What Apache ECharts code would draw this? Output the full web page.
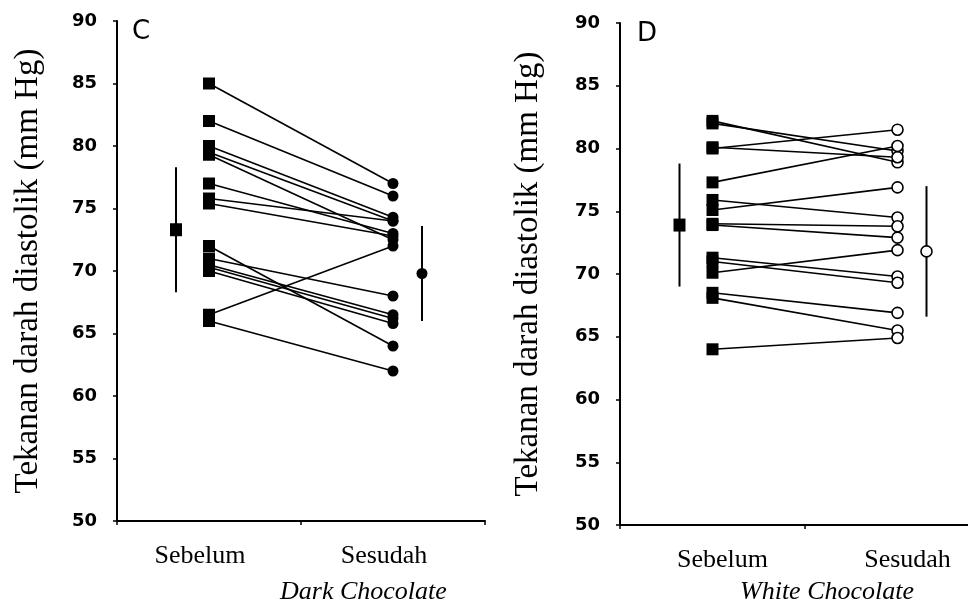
<!DOCTYPE html>
<html>
<head>
<meta charset="utf-8">
<script src="https://cdn.jsdelivr.net/npm/echarts@6/dist/echarts.min.js"></script>
<style>
  html, body { margin: 0; padding: 0; background: #fff; }
  #chart { width: 968px; height: 602px; }
</style>
</head>
<body>
<div id="chart"></div>
<script>
var categories = ["Sebelum", "Sesudah"];

// panel C - dark chocolate
var darkPre = [85, 82, 80, 79.5, 79.3, 77, 75.8, 75.4, 72, 71, 70.5, 70.3, 70, 66.5, 66];
var darkPost = [77, 76, 74.3, 74, 72.5, 73, 74, 72.8, 64, 68, 66.5, 66.2, 65.8, 72, 62];
var darkMean = [73.3, 69.8];
var darkSD = [5.0, 3.8];

// panel D - white chocolate
var whitePre = [82, 82.2, 80, 80.1, 77.3, 75.9, 75.1, 74, 73.9, 71.3, 71, 70.1, 68.5, 68.1, 64];
var whitePost = [79.8, 78.9, 81.5, 79.3, 80.2, 74.5, 76.9, 73.8, 72.9, 69.8, 69.3, 71.9, 66.9, 65.5, 64.9];
var whiteMean = [73.9, 71.8];
var whiteSD = [4.9, 5.2];

var yName = "Tekanan darah diastolik (mm Hg)";

var chart = echarts.init(document.getElementById("chart"));

function pairLines(pre, post, k) {
  return pre.map(function (v, i) {
    return {
      type: "line",
      xAxisIndex: k,
      yAxisIndex: k,
      data: [v, post[i]],
      showSymbol: false,
      silent: true,
      z: 2,
      lineStyle: { color: "#000", width: 1.6 },
    };
  });
}

function meanSeries(mean, sd, k, hollow) {
  return {
    type: "custom",
    xAxisIndex: k,
    yAxisIndex: k,
    z: 4,
    data: mean.map(function (m, i) {
      return [i, m, sd[i]];
    }),
    renderItem: function (params, api) {
      var idx = api.value(0);
      var m = api.value(1);
      var s = api.value(2);
      var dx = idx === 0 ? -33 : 29;
      var c = api.coord([idx, m]);
      var t = api.coord([idx, m + s]);
      var b = api.coord([idx, m - s]);
      var x = c[0] + dx;
      var marker;
      if (idx === 0) {
        marker = {
          type: "rect",
          shape: { x: x - 6, y: c[1] - 6.5, width: 12, height: 13 },
          style: { fill: "#000" },
        };
      } else {
        marker = {
          type: "circle",
          shape: { cx: x, cy: c[1], r: 5.5 },
          style: hollow
            ? { fill: "#fff", stroke: "#000", lineWidth: 1.6 }
            : { fill: "#000" },
        };
      }
      return {
        type: "group",
        children: [
          {
            type: "line",
            shape: { x1: x, y1: t[1], x2: x, y2: b[1] },
            style: { stroke: "#000", lineWidth: 2 },
          },
          marker,
        ],
      };
    },
  };
}

function xAxisCfg(k, pad) {
  return {
    type: "category",
    gridIndex: k,
    data: categories,
    boundaryGap: true,
    axisLine: { lineStyle: { color: "#000", width: 2 } },
    axisTick: { show: true, length: 4, lineStyle: { color: "#000", width: 1.5 } },
    axisLabel: {
      color: "#000",
      fontFamily: "Liberation Serif",
      fontSize: 26,
      margin: 22,
      padding: pad,
    },
  };
}

function yAxisCfg(k, gap) {
  return {
    type: "value",
    gridIndex: k,
    min: 50,
    max: 90,
    interval: 5,
    splitLine: { show: false },
    axisLine: { show: true, lineStyle: { color: "#000", width: 2 } },
    axisTick: { show: true, length: 4, lineStyle: { color: "#000", width: 1.5 } },
    axisLabel: {
      color: "#000",
      fontFamily: "DejaVu Sans",
      fontWeight: "bold",
      fontSize: 18,
      margin: 20,
    },
    name: yName,
    nameLocation: "middle",
    nameGap: gap,
    nameTextStyle: {
      color: "#000",
      fontFamily: "Liberation Serif",
      fontSize: 33,
    },
  };
}

var series = []
  .concat(pairLines(darkPre, darkPost, 0))
  .concat(pairLines(whitePre, whitePost, 1))
  .concat([
    {
      type: "scatter",
      xAxisIndex: 0,
      yAxisIndex: 0,
      symbol: "rect",
      symbolSize: 12,
      z: 3,
      itemStyle: { color: "#000", opacity: 1 },
      data: darkPre.map(function (v) { return [categories[0], v]; }),
    },
    {
      type: "scatter",
      xAxisIndex: 0,
      yAxisIndex: 0,
      symbol: "circle",
      symbolSize: 11,
      z: 3,
      itemStyle: { color: "#000", opacity: 1 },
      data: darkPost.map(function (v) { return [categories[1], v]; }),
    },
    {
      type: "scatter",
      xAxisIndex: 1,
      yAxisIndex: 1,
      symbol: "rect",
      symbolSize: 12,
      z: 3,
      itemStyle: { color: "#000", opacity: 1 },
      data: whitePre.map(function (v) { return [categories[0], v]; }),
    },
    {
      type: "scatter",
      xAxisIndex: 1,
      yAxisIndex: 1,
      symbol: "circle",
      symbolSize: 11,
      z: 3,
      itemStyle: { color: "#fff", borderColor: "#000", borderWidth: 1.6, opacity: 1 },
      data: whitePost.map(function (v) { return [categories[1], v]; }),
    },
    meanSeries(darkMean, darkSD, 0, false),
    meanSeries(whiteMean, whiteSD, 1, true),
  ]);

chart.setOption({
  animation: false,
  backgroundColor: "#fff",
  title: [
    {
      text: "C",
      left: 132,
      top: 19,
      padding: 0,
      textStyle: { color: "#000", fontFamily: "DejaVu Sans", fontSize: 26, fontWeight: "normal" },
    },
    {
      text: "D",
      left: 637,
      top: 21,
      padding: 0,
      textStyle: { color: "#000", fontFamily: "DejaVu Sans", fontSize: 26, fontWeight: "normal" },
    },
    {
      text: "Dark Chocolate",
      left: 280,
      top: 579,
      padding: 0,
      textStyle: { color: "#000", fontFamily: "Liberation Serif", fontStyle: "italic", fontSize: 26, fontWeight: "normal" },
    },
    {
      text: "White Chocolate",
      left: 740,
      top: 579,
      padding: 0,
      textStyle: { color: "#000", fontFamily: "Liberation Serif", fontStyle: "italic", fontSize: 26, fontWeight: "normal" },
    },
  ],
  grid: [
    { left: 117, top: 21, width: 368, height: 500, outerBoundsMode: "none" },
    { left: 620, top: 23, width: 370, height: 502, outerBoundsMode: "none" },
  ],
  xAxis: [xAxisCfg(0, [0, 18, 0, 0]), xAxisCfg(1, [0, 0, 0, 20])],
  yAxis: [yAxisCfg(0, 72), yAxisCfg(1, 75)],
  series: series,
});
</script>
</body>
</html>
